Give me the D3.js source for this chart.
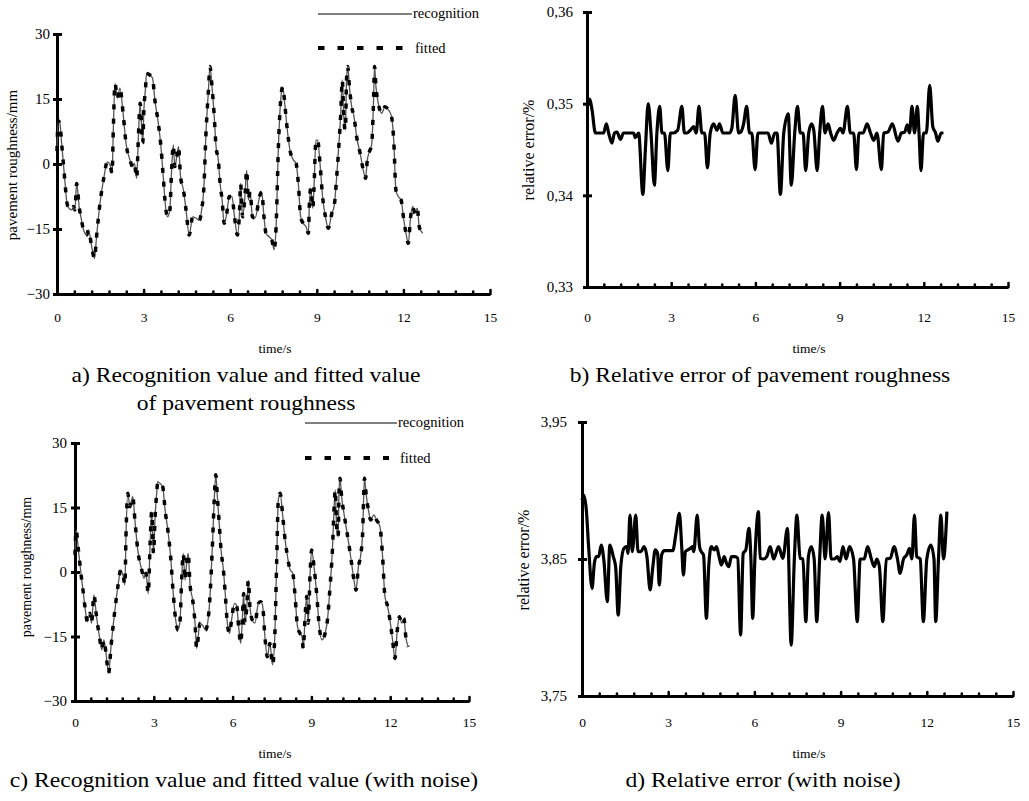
<!DOCTYPE html>
<html>
<head>
<meta charset="utf-8">
<script src="https://cdnjs.cloudflare.com/ajax/libs/d3/7.8.5/d3.min.js"></script>
<style>
  body { margin: 0; background: #fff; }
  svg text { font-family: "Liberation Serif", "Times New Roman", serif; fill: #000; }
</style>
</head>
<body>
<script>
var outerWidth = 1029;
var outerHeight = 801;

// a) recognition / fitted pavement roughness (mm) vs time (s)
var timeA = [0, 0.04, 0.1, 0.16, 0.22, 0.28, 0.33, 0.39, 0.51, 0.57, 0.62, 0.68, 0.77, 0.85, 0.91, 1.03, 1.09, 1.2, 1.3, 1.37,
  1.49, 1.63, 1.74, 1.84, 1.91, 1.95, 2.01, 2.09, 2.18, 2.3, 2.39, 2.53, 2.62, 2.68, 2.76, 2.82, 2.88, 2.97, 3.01, 3.07,
  3.1, 3.22, 3.31, 3.39, 3.51, 3.59, 3.68, 3.76, 3.83, 3.91, 3.97, 4.03, 4.08, 4.15, 4.21, 4.28, 4.38, 4.47, 4.58, 4.7,
  4.82, 4.93, 5.01, 5.09, 5.16, 5.24, 5.3, 5.37, 5.44, 5.51, 5.59, 5.65, 5.72, 5.79, 5.88, 5.97, 6.06, 6.15, 6.25, 6.32,
  6.36, 6.43, 6.51, 6.57, 6.63, 6.69, 6.77, 6.86, 7.03, 7.09, 7.17, 7.24, 7.35, 7.44, 7.52, 7.59, 7.67, 7.75, 7.82, 7.9,
  7.98, 8.07, 8.19, 8.28, 8.36, 8.44, 8.53, 8.63, 8.71, 8.74, 8.79, 8.86, 8.9, 8.97, 9.03, 9.11, 9.2, 9.3, 9.4, 9.52,
  9.6, 9.69, 9.79, 9.83, 9.88, 9.94, 9.99, 10.03, 10.07, 10.13, 10.21, 10.29, 10.38, 10.5, 10.61, 10.69, 10.75, 10.82, 10.9, 10.96,
  11.0, 11.05, 11.13, 11.25, 11.36, 11.48, 11.59, 11.67, 11.74, 11.82, 11.92, 12.0, 12.09, 12.17, 12.25, 12.32, 12.4, 12.48, 12.55, 12.67];
var roughA = [3, 10, 9.4, 4.8, 0.2, -4.5, -8.3, -10, -10.6, -9.8, -10.6, -4.5, -10, -13, -15, -16.4, -15.2, -19, -21.8, -16.8,
  -9, -2.9, 0.5, -0.2, -2.2, 7.8, 18.6, 15.2, 17.5, 11, 4.8, 0.9, -0.6, 0.2, -3.3, 6.3, 14, 4.8, 12.5, 17.8,
  20.9, 20.5, 19.8, 14.8, 9.4, 4.8, -2.9, -9.8, -12.2, -10.6, -1.4, 4.4, -0.6, 1.7, 4, -2.9, -6, -10.6, -16.4, -12.2,
  -12.5, -13, -10.6, -5.2, 7, 16.3, 22.5, 17.8, 11.7, 4, 0.9, -4.5, -8.3, -13.7, -11.4, -7.5, -7.5, -12.2, -16.4, -11.4,
  -4.5, -12.2, -7.5, -1.4, -8.3, -6.4, -12.2, -12.5, -7.2, -6.4, -12.2, -16, -16.8, -17.5, -19.8, -14.5, 4, 14.8, 17.8, 13.2,
  7.8, 3.2, 0.9, 0.2, -4.5, -12.2, -13.7, -14.5, -16, -9.8, -5.6, -10.2, -6, 5.5, 5.5, 0.2, -7.5, -12.2, -14.8, -11.4,
  -9.8, -2.9, 7, 11.7, 19.4, 10.2, 7.8, 19.4, 22.5, 17.8, 13.2, 10.9, 6.3, 2.5, -1.4, -3.3, 0.9, 2.8, 4.4, 13.2,
  22.5, 17.8, 14, 11.7, 13.2, 12.5, 10.9, 4.8, -6, -7.5, -8.3, -12.2, -16, -18.3, -12.2, -9.8, -11.4, -10.2, -14.5, -16];

// c) same with noise
var timeC = [0, 0.04, 0.13, 0.22, 0.32, 0.41, 0.47, 0.57, 0.63, 0.72, 0.82, 0.93, 1.02, 1.1, 1.18, 1.28, 1.37, 1.52, 1.65, 1.74,
  1.84, 1.9, 1.94, 2.01, 2.09, 2.2, 2.28, 2.39, 2.54, 2.63, 2.7, 2.79, 2.86, 2.92, 2.99, 3.05, 3.11, 3.15, 3.24, 3.34,
  3.43, 3.55, 3.64, 3.74, 3.85, 3.92, 4.0, 4.06, 4.12, 4.19, 4.25, 4.31, 4.38, 4.48, 4.57, 4.63, 4.76, 4.89, 4.97, 5.08,
  5.16, 5.24, 5.3, 5.36, 5.42, 5.49, 5.56, 5.65, 5.71, 5.8, 5.88, 5.96, 6.07, 6.15, 6.23, 6.31, 6.38, 6.42, 6.47, 6.54,
  6.6, 6.66, 6.75, 6.85, 6.98, 7.07, 7.14, 7.23, 7.32, 7.42, 7.52, 7.61, 7.68, 7.74, 7.81, 7.91, 8.0, 8.09, 8.19, 8.29,
  8.38, 8.47, 8.57, 8.64, 8.69, 8.76, 8.82, 8.88, 8.95, 9.01, 9.1, 9.2, 9.3, 9.4, 9.52, 9.61, 9.71, 9.8, 9.86, 9.91,
  9.96, 10.02, 10.05, 10.09, 10.15, 10.24, 10.34, 10.44, 10.53, 10.62, 10.7, 10.79, 10.87, 10.95, 11.02, 11.08, 11.17, 11.26, 11.38, 11.48,
  11.61, 11.71, 11.8, 11.89, 11.99, 12.09, 12.18, 12.27, 12.35, 12.44, 12.52, 12.6, 12.69];
var roughC = [4, 9.8, 5.1, 0, -5, -9.6, -11.6, -9.6, -11.9, -5.3, -10.4, -15, -18.1, -15.8, -18.9, -23.6, -17.4, -8.8, -2.6, 0.5,
  -1.1, -3, 8.2, 18.3, 15.2, 17.5, 12.1, 5.1, 0.5, -1.5, -0.3, -5, 6.7, 14, 4.3, 12.9, 18.3, 21, 20.6, 19.8,
  14.4, 9, 3.6, -5, -11.9, -13.5, -11.2, -1.9, 4.3, -1.9, 2, 4.3, -3, -6.5, -11.9, -17.8, -11.9, -12.7, -13.5, -10.4,
  -3.4, 7.4, 16.7, 22.6, 17.5, 11.3, 5.1, 0.5, -4.2, -11.9, -14.3, -11.2, -7.3, -7.7, -12.7, -16.6, -9.6, -5, -11.9, -8.1,
  -1.9, -8.1, -11.2, -11.9, -7.3, -6.9, -7.7, -15, -19.7, -16.6, -21.6, -14.3, 2.8, 16.7, 18.3, 12.9, 7.4, 3.6, 0.5, -0.3,
  -5.7, -12.7, -14.3, -15, -17.8, -10.4, -5.7, -11.9, -0.3, 5.1, 1.2, -5, -12.7, -15.8, -14.3, -11.2, -3.4, 5.1, 14.4, 19.1,
  10.5, 8.2, 18.3, 21.8, 17.5, 13.6, 9.8, 5.9, 2, -1.9, -4.2, 1.2, 3.6, 9, 21.8, 18.3, 14.4, 12.1, 13.3, 12.1,
  10.5, 3.6, -5.7, -7.7, -11.2, -15.8, -20.1, -13.5, -10.4, -11.9, -10.8, -15.4, -17.4];

// b) relative error (%)
var timeB = [0, 0.1, 0.18, 0.3, 0.59, 0.69, 0.77, 0.89, 0.98, 1.07, 1.19, 1.3, 1.66, 1.72, 1.84, 1.99, 2.08, 2.18, 2.28, 2.4,
  2.49, 2.59, 2.67, 2.76, 2.88, 2.97, 3.08, 3.23, 3.38, 3.47, 3.56, 3.68, 3.8, 3.89, 3.99, 4.09, 4.19, 4.29, 4.39, 4.51,
  4.63, 4.72, 4.84, 4.92, 5.08, 5.16, 5.28, 5.4, 5.48, 5.58, 5.69, 5.79, 5.87, 5.99, 6.09, 6.45, 6.57, 6.69, 6.77, 6.89,
  7.01, 7.17, 7.28, 7.4, 7.5, 7.6, 7.7, 7.79, 7.9, 8.0, 8.08, 8.2, 8.29, 8.39, 8.48, 8.59, 8.68, 8.79, 8.91, 9.03,
  9.12, 9.28, 9.38, 9.5, 9.6, 9.69, 9.84, 9.98, 10.1, 10.22, 10.33, 10.49, 10.57, 10.72, 10.88, 11.08, 11.2, 11.32, 11.41, 11.49,
  11.58, 11.67, 11.77, 11.83, 11.9, 11.99, 12.09, 12.21, 12.32, 12.42, 12.5, 12.62, 12.7];
var errB = [0.3497, 0.3505, 0.3493, 0.3468, 0.3468, 0.3478, 0.3468, 0.3457, 0.3468, 0.3469, 0.3461, 0.3468, 0.3468, 0.3463, 0.3468, 0.3401, 0.345, 0.35, 0.3468, 0.3411,
  0.3468, 0.3497, 0.3468, 0.3468, 0.3427, 0.3468, 0.3468, 0.3471, 0.3497, 0.3468, 0.3468, 0.3471, 0.3475, 0.3468, 0.3497, 0.3468, 0.3468, 0.343, 0.3468, 0.3478,
  0.3471, 0.3478, 0.3468, 0.3468, 0.3468, 0.3473, 0.3509, 0.3468, 0.3469, 0.3478, 0.3497, 0.3468, 0.3468, 0.3428, 0.3468, 0.3468, 0.3457, 0.3468, 0.3468, 0.3401,
  0.3468, 0.3489, 0.3411, 0.3468, 0.3497, 0.3468, 0.3468, 0.3427, 0.3468, 0.3478, 0.3471, 0.3427, 0.3468, 0.3497, 0.3468, 0.3478, 0.3468, 0.346, 0.3468, 0.3473,
  0.3468, 0.3497, 0.3468, 0.3468, 0.3428, 0.3468, 0.3468, 0.3478, 0.3468, 0.346, 0.3468, 0.3428, 0.3468, 0.3469, 0.3478, 0.3459, 0.3468, 0.3469, 0.3477, 0.3468,
  0.3497, 0.3468, 0.3497, 0.3468, 0.3427, 0.3468, 0.3468, 0.352, 0.3475, 0.3468, 0.3459, 0.3468, 0.3468];

// d) relative error with noise (%)
var timeD = [0, 0.06, 0.15, 0.23, 0.35, 0.43, 0.5, 0.58, 0.67, 0.76, 0.88, 0.97, 1.09, 1.17, 1.26, 1.35, 1.46, 1.56, 1.6, 1.67,
  1.75, 1.87, 1.95, 2.05, 2.16, 2.26, 2.37, 2.46, 2.55, 2.63, 2.69, 2.77, 2.87, 3.16, 3.27, 3.39, 3.47, 3.53, 3.6, 3.68,
  3.78, 3.84, 3.89, 4.01, 4.09, 4.15, 4.23, 4.33, 4.41, 4.5, 4.6, 4.68, 4.77, 4.85, 4.95, 5.03, 5.11, 5.2, 5.32, 5.42,
  5.52, 5.61, 5.7, 5.81, 5.88, 5.94, 6.02, 6.14, 6.2, 6.32, 6.43, 6.55, 6.67, 6.84, 6.99, 7.15, 7.28, 7.39, 7.48, 7.59,
  7.69, 7.79, 7.88, 7.98, 8.08, 8.17, 8.27, 8.36, 8.46, 8.58, 8.67, 8.78, 8.89, 8.98, 9.08, 9.19, 9.31, 9.45, 9.58, 9.68,
  9.82, 9.94, 10.07, 10.17, 10.26, 10.35, 10.47, 10.59, 10.73, 10.86, 10.98, 11.07, 11.19, 11.3, 11.4, 11.48, 11.57, 11.65, 11.77, 11.88,
  12.0, 12.14, 12.25, 12.31, 12.41, 12.49, 12.58, 12.7];
var errD = [3.893, 3.8967, 3.8858, 3.859, 3.8286, 3.8468, 3.8517, 3.8517, 3.8602, 3.8493, 3.8189, 3.8602, 3.8517, 3.8444, 3.8091, 3.8444, 3.8578, 3.859, 3.8541, 3.8821,
  3.8554, 3.8821, 3.8554, 3.8554, 3.859, 3.8517, 3.8274, 3.8432, 3.8566, 3.8541, 3.831, 3.8529, 3.8561, 3.8561, 3.8687, 3.8833, 3.859, 3.8383, 3.8554, 3.8566,
  3.8578, 3.859, 3.8554, 3.8821, 3.859, 3.8554, 3.8529, 3.8067, 3.8444, 3.859, 3.8566, 3.859, 3.8517, 3.8456, 3.8517, 3.8468, 3.8444, 3.8517, 3.8517, 3.8505,
  3.7945, 3.8541, 3.8566, 3.8724, 3.8493, 3.8067, 3.8517, 3.8846, 3.8505, 3.85, 3.8517, 3.859, 3.85, 3.859, 3.8505, 3.8724, 3.7872, 3.85, 3.8821, 3.8505,
  3.85, 3.8043, 3.8517, 3.859, 3.85, 3.8043, 3.85, 3.8821, 3.85, 3.8838, 3.85, 3.85, 3.8517, 3.8481, 3.859, 3.85, 3.859, 3.85, 3.8043, 3.85,
  3.85, 3.859, 3.85, 3.8444, 3.85, 3.8444, 3.8043, 3.85, 3.8505, 3.859, 3.85, 3.8395, 3.85, 3.8529, 3.8578, 3.85, 3.8821, 3.8517, 3.85, 3.8043,
  3.85, 3.8602, 3.85, 3.8043, 3.8517, 3.8821, 3.85, 3.8846];

var xTickLabels = [0, 3, 6, 9, 12, 15];
var yTicksA = [-30, -15, 0, 15, 30];
var yTicksB = [0.33, 0.34, 0.35, 0.36];
var yTicksD = [3.75, 3.85, 3.95];

var svg = d3.select('body').append('svg')
  .attr('width', outerWidth)
  .attr('height', outerHeight);

var commaFmt = function(d){ return d3.format('.2f')(d).replace('.', ','); };

function drawPanel(p){
  var x = d3.scaleLinear().domain([0, 15]).range([p.x0, p.x1]);
  var y = d3.scaleLinear().domain(p.yDomain).range([p.y1, p.y0]);

  // x axis with small inward ticks every 0.6 s
  var minor = d3.range(0, 26).map(function(i){ return +(i * 0.6).toFixed(1); });
  var xAxis = svg.append('g')
    .attr('transform', 'translate(0,' + p.y1 + ')')
    .call(d3.axisBottom(x)
      .tickValues(minor)
      .tickSize(-3)
      .tickSizeOuter(0)
      .tickPadding(p.xPad)
      .tickFormat(function(d){ return xTickLabels.indexOf(d) >= 0 ? d : ''; }));
  xAxis.select('.domain').attr('stroke-width', 3);
  xAxis.selectAll('.tick line')
    .attr('stroke-width', 2.5)
    .attr('stroke-linecap', 'round')
    .attr('y2', function(d){ return xTickLabels.indexOf(d) >= 0 ? -4 : -2.5; });
  xAxis.selectAll('.tick text')
    .attr('font-size', 13.5)
    .attr('font-family', '"Liberation Serif", serif');

  var yAxis = svg.append('g')
    .attr('transform', 'translate(' + p.x0 + ',0)')
    .call(d3.axisLeft(y)
      .tickValues(p.yTicks)
      .tickSize(4)
      .tickSizeOuter(0)
      .tickPadding(p.yPad)
      .tickFormat(p.yFmt));
  yAxis.select('.domain').attr('stroke-width', 3);
  yAxis.selectAll('.tick line').attr('stroke-width', 3).attr('x1', 5);
  yAxis.selectAll('.tick text')
    .attr('font-size', 15)
    .attr('font-family', '"Liberation Serif", serif');

  svg.append('text')
    .attr('transform', 'translate(' + p.yLab[0] + ',' + p.yLab[1] + ') rotate(-90)')
    .attr('text-anchor', 'middle')
    .attr('font-size', p.yLabSize)
    .text(p.yLabel);

  svg.append('text')
    .attr('x', p.xLab[0])
    .attr('y', p.xLab[1])
    .attr('text-anchor', 'middle')
    .attr('font-size', 13.5)
    .text('time/s');

  p.caption.forEach(function(c){
    svg.append('text')
      .attr('transform', 'translate(' + c[1] + ',' + c[2] + ') scale(1.18,1)')
      .attr('text-anchor', 'middle')
      .attr('font-size', 20)
      .text(c[0]);
  });

  var line = d3.line()
    .x(function(d){ return x(d[0]); })
    .y(function(d){ return y(d[1]); })
    .curve(d3.curveMonotoneX);

  p.series.forEach(function(s){
    var pts = s.t.map(function(t, i){ return [t, s.v[i]]; });
    svg.append('path')
      .datum(pts)
      .attr('fill', 'none')
      .attr('stroke', s.color)
      .attr('stroke-width', s.width)
      .attr('stroke-dasharray', s.dash || null)
      .attr('stroke-linejoin', 'round')
      .attr('d', line);
  });

  if (p.legend){
    var L = p.legend;
    svg.append('line')
      .attr('x1', L.x0).attr('x2', L.x1).attr('y1', L.y0).attr('y2', L.y0)
      .attr('stroke', '#555').attr('stroke-width', 1.5);
    svg.append('text')
      .attr('x', L.x1 + 1).attr('y', L.y0 + 4)
      .attr('font-size', 14.5)
      .text('recognition');
    svg.append('line')
      .attr('x1', L.x0).attr('x2', L.x1 - 8).attr('y1', L.y1).attr('y2', L.y1)
      .attr('stroke', '#000').attr('stroke-width', 4)
      .attr('stroke-dasharray', '6.5,13');
    svg.append('text')
      .attr('x', L.x1 + 3).attr('y', L.y1 + 5)
      .attr('font-size', 14.5)
      .text('fitted');
  }
}

drawPanel({
  x0: 57, x1: 490, y0: 34, y1: 294,
  yDomain: [-30, 30], yTicks: yTicksA, yFmt: d3.format('d'), yPad: 3, xPad: 18,
  yLabel: 'pavement roughness/mm', yLab: [17, 165], yLabSize: 15,
  xLab: [275, 353],
  caption: [['a) Recognition value and fitted value', 246, 382], ['of pavement roughness', 246, 410]],
  series: [
    {t: timeA, v: roughA, color: '#555', width: 1.3},
    {t: timeA, v: roughA, color: '#000', width: 3.5, dash: '5,9'}
  ],
  legend: {x0: 318, x1: 412, y0: 14, y1: 48}
});

drawPanel({
  x0: 587, x1: 1008, y0: 12, y1: 287,
  yDomain: [0.33, 0.36], yTicks: yTicksB, yFmt: commaFmt, yPad: 10, xPad: 25,
  yLabel: 'relative error/%', yLab: [534, 150], yLabSize: 16,
  xLab: [809, 353],
  caption: [['b) Relative error of pavement roughness', 760, 382]],
  series: [{t: timeB, v: errB, color: '#000', width: 3.2}]
});

drawPanel({
  x0: 75, x1: 469, y0: 443, y1: 701,
  yDomain: [-30, 30], yTicks: yTicksA, yFmt: d3.format('d'), yPad: 4, xPad: 16,
  yLabel: 'pavement roughness/mm', yLab: [31, 567], yLabSize: 14,
  xLab: [275, 758],
  caption: [['c) Recognition value and fitted value (with noise)', 244, 787]],
  series: [
    {t: timeC, v: roughC, color: '#555', width: 1.3},
    {t: timeC, v: roughC, color: '#000', width: 3.5, dash: '5,9'}
  ],
  legend: {x0: 305, x1: 397, y0: 423, y1: 458}
});

drawPanel({
  x0: 582, x1: 1013, y0: 422, y1: 696,
  yDomain: [3.75, 3.95], yTicks: yTicksD, yFmt: commaFmt, yPad: 11, xPad: 21,
  yLabel: 'relative error/%', yLab: [529, 560], yLabSize: 16,
  xLab: [809, 758],
  caption: [['d) Relative error (with noise)', 763, 787]],
  series: [{t: timeD, v: errD, color: '#000', width: 3.2}]
});
</script>
</body>
</html>
